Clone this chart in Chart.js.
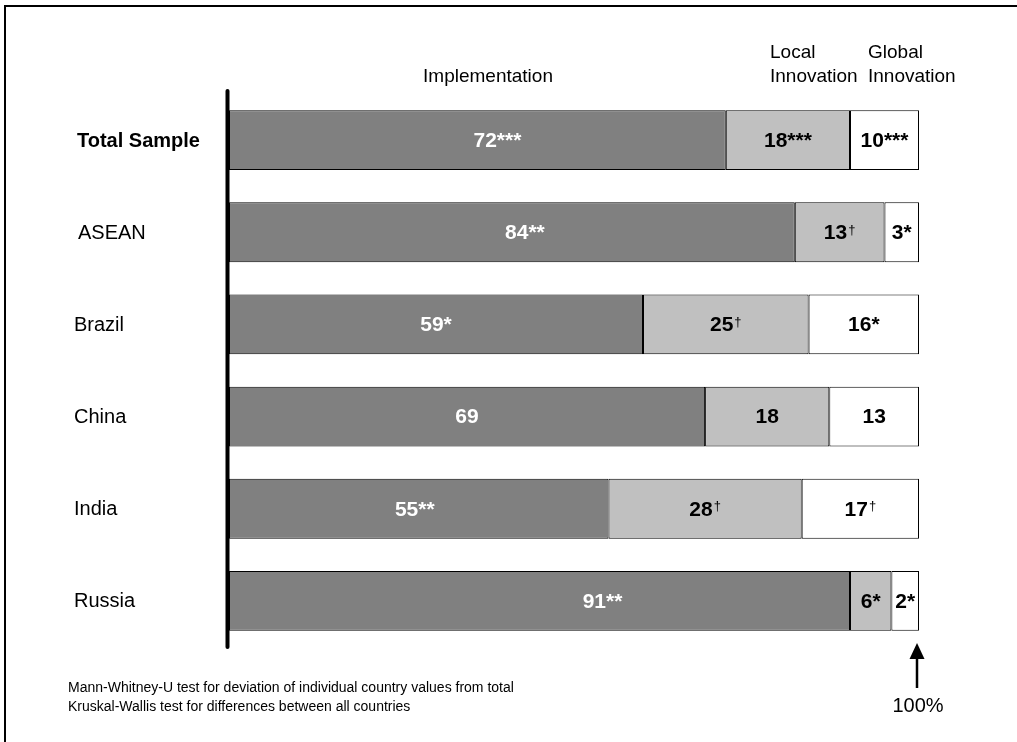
<!DOCTYPE html>
<html>
<head>
<meta charset="utf-8">
<script src="https://cdn.jsdelivr.net/npm/chart.js@4.4.0/dist/chart.umd.min.js"></script>
<style>
  html, body { margin: 0; padding: 0; background: #fff; }
  #wrap { width: 1017px; height: 742px; }
</style>
</head>
<body>
<div id="wrap"><canvas id="innoChart" width="1017" height="742"></canvas></div>
<script>
var categories = ['Total Sample', 'ASEAN', 'Brazil', 'China', 'India', 'Russia'];
var seriesNames = ['Implementation', 'Local Innovation', 'Global Innovation'];

// segment lengths as drawn (percent of bar)
var implementation = [72, 82, 60, 69, 55, 90];
var localInnovation = [18, 13, 24, 18, 28, 6];
var globalInnovation = [10, 5, 16, 13, 17, 4];

// printed labels and significance marks
var implLabels = ['72', '84', '59', '69', '55', '91'];
var implMarks = ['***', '**', '*', '', '**', '**'];
var localLabels = ['18', '13', '25', '18', '28', '6'];
var localMarks = ['***', '†', '†', '', '†', '*'];
var globalLabels = ['10', '3', '16', '13', '17', '2'];
var globalMarks = ['***', '*', '*', '', '†', '*'];

var footnotes = [
    'Mann-Whitney-U test for deviation of individual country values from total',
    'Kruskal-Wallis test for differences between all countries'
];

var FONT = 'Arial, "Liberation Sans", sans-serif';
// the original placed a few implementation labels right of centre
var implNudge = [20, 13, 0, 0, -4, 63];

var overlay = {
    id: 'overlay',
    afterDatasetsDraw: function (chart) {
        var ctx = chart.ctx;
        var area = chart.chartArea;
        var yScale = chart.scales.y;
        var xScale = chart.scales.x;
        var labelSets = [[implLabels, implMarks, '#fff'], [localLabels, localMarks, '#000'], [globalLabels, globalMarks, '#000']];

        ctx.save();

        // value labels
        labelSets.forEach(function (set, di) {
            var meta = chart.getDatasetMeta(di);
            meta.data.forEach(function (bar, i) {
                var num = set[0][i], mark = set[1][i];
                var cx = (bar.x + bar.base) / 2 + (di === 0 ? implNudge[i] : 0);
                ctx.font = 'bold 21px ' + FONT;
                var wNum = ctx.measureText(num).width;
                var wMark = 0;
                if (mark === '†') {
                    ctx.font = '13px ' + FONT;
                    wMark = ctx.measureText(mark).width + 1;
                } else if (mark) {
                    wMark = ctx.measureText(mark).width;
                }
                var left = cx - (wNum + wMark) / 2;
                ctx.fillStyle = set[2];
                ctx.textBaseline = 'middle';
                ctx.textAlign = 'left';
                ctx.font = 'bold 21px ' + FONT;
                ctx.fillText(num, left, bar.y + 1);
                if (mark === '†') {
                    ctx.font = '13px ' + FONT;
                    ctx.fillText(mark, left + wNum + 1, bar.y - 2);
                } else if (mark) {
                    ctx.font = 'bold 21px ' + FONT;
                    ctx.fillText(mark, left + wNum, bar.y + 1);
                }
            });
        });

        // category labels
        ctx.fillStyle = '#000';
        ctx.textAlign = 'left';
        ctx.textBaseline = 'middle';
        categories.forEach(function (c, i) {
            ctx.font = (i === 0 ? 'bold ' : '') + '20px ' + FONT;
            ctx.fillText(c, i === 1 ? 78 : (i === 0 ? 77 : 74), yScale.getPixelForValue(i) + 1);
        });

        // series headers
        ctx.font = '19px ' + FONT;
        ctx.textBaseline = 'alphabetic';
        ctx.textAlign = 'center';
        ctx.fillText(seriesNames[0], 488, 82);
        ctx.textAlign = 'left';
        var localWords = seriesNames[1].split(' ');
        ctx.fillText(localWords[0], 770, 58);
        ctx.fillText(localWords[1], 770, 82);
        var globalWords = seriesNames[2].split(' ');
        ctx.fillText(globalWords[0], 868, 58);
        ctx.fillText(globalWords[1], 868, 82);

        // thick vertical axis
        ctx.strokeStyle = '#000';
        ctx.lineWidth = 4;
        ctx.lineCap = 'round';
        ctx.beginPath();
        ctx.moveTo(area.left - 1.5, 91);
        ctx.lineTo(area.left - 1.5, 647);
        ctx.stroke();

        // 100% arrow
        var ax = xScale.getPixelForValue(100) - 2;
        ctx.lineCap = 'butt';
        ctx.lineWidth = 2.5;
        ctx.beginPath();
        ctx.moveTo(ax, 688);
        ctx.lineTo(ax, 656);
        ctx.stroke();
        ctx.fillStyle = '#000';
        ctx.beginPath();
        ctx.moveTo(ax, 643);
        ctx.lineTo(ax - 7.5, 659);
        ctx.lineTo(ax + 7.5, 659);
        ctx.closePath();
        ctx.fill();
        ctx.font = '20px ' + FONT;
        ctx.textAlign = 'center';
        ctx.fillText('100%', ax + 1, 712);

        // footnotes
        ctx.font = '14px ' + FONT;
        ctx.textAlign = 'left';
        footnotes.forEach(function (t, i) {
            ctx.fillText(t, 68, 692 + i * 19);
        });

        // frame
        ctx.lineWidth = 2;
        ctx.beginPath();
        ctx.moveTo(1017, 6);
        ctx.lineTo(5, 6);
        ctx.lineTo(5, 742);
        ctx.stroke();

        ctx.restore();
    }
};

var makeSet = function (label, data, color) {
    return {
        label: label,
        data: data,
        backgroundColor: color,
        borderColor: '#000',
        borderWidth: 1,
        borderSkipped: false,
        categoryPercentage: 1,
        barPercentage: 0.65
    };
};

new Chart('innoChart', {
    type: 'bar',
    data: {
        labels: categories,
        datasets: [
            makeSet(seriesNames[0], implementation, '#808080'),
            makeSet(seriesNames[1], localInnovation, '#c0c0c0'),
            makeSet(seriesNames[2], globalInnovation, '#ffffff')
        ]
    },
    options: {
        indexAxis: 'y',
        responsive: false,
        animation: false,
        layout: { padding: { left: 229, right: 98, top: 94, bottom: 95 } },
        plugins: { legend: { display: false }, tooltip: { enabled: false } },
        scales: {
            x: { stacked: true, min: 0, max: 100, display: false },
            y: { stacked: true, display: false }
        }
    },
    plugins: [overlay]
});
</script>
</body>
</html>
